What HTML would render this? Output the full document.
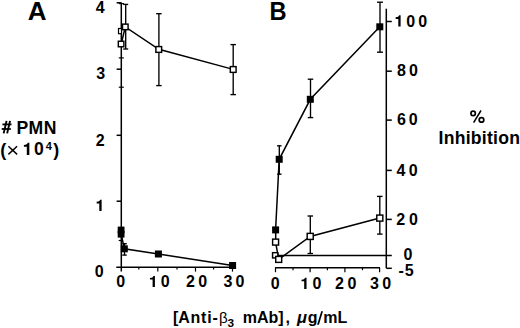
<!DOCTYPE html>
<html><head><meta charset="utf-8"><style>
html,body{margin:0;padding:0;background:#fff;width:520px;height:328px;overflow:hidden}
svg{display:block}
text{font-family:"Liberation Sans",sans-serif;fill:#000;stroke:none}
</style></head><body>
<svg width="520" height="328" viewBox="0 0 520 328" stroke="#000" stroke-linecap="butt">
<g stroke="#000">
<line x1="121.3" y1="2.6" x2="121.3" y2="271.6" stroke-width="1.5"/>
<line x1="116.3" y1="267.2" x2="233" y2="267.2" stroke-width="1.5"/>
<line x1="116.6" y1="2.8" x2="121.3" y2="2.8" stroke-width="1.5"/>
<line x1="116.6" y1="69.2" x2="121.3" y2="69.2" stroke-width="1.5"/>
<line x1="116.6" y1="135.3" x2="121.3" y2="135.3" stroke-width="1.5"/>
<line x1="116.6" y1="201.2" x2="121.3" y2="201.2" stroke-width="1.5"/>
<line x1="138.8" y1="267.2" x2="138.8" y2="269.6" stroke-width="1.2"/>
<line x1="157.8" y1="267.2" x2="157.8" y2="271.6" stroke-width="1.2"/>
<line x1="177" y1="267.2" x2="177" y2="269.6" stroke-width="1.2"/>
<line x1="195.5" y1="267.2" x2="195.5" y2="271.6" stroke-width="1.2"/>
<line x1="213.6" y1="267.2" x2="213.6" y2="269.6" stroke-width="1.2"/>
<line x1="232.5" y1="267.2" x2="232.5" y2="271.6" stroke-width="1.2"/>
<polyline points="121.2,44 125.3,26.9 158.8,49.3 233.2,69.4" fill="none" stroke-width="1.5"/>
<polyline points="121.2,233.8 124.3,248.8 158.4,254 232.6,265.5" fill="none" stroke-width="1.5"/>
<line x1="125.7" y1="4.4" x2="125.7" y2="49" stroke-width="1.35"/>
<line x1="123.2" y1="4.4" x2="128.2" y2="4.4" stroke-width="1.35"/>
<line x1="123.2" y1="49" x2="128.2" y2="49" stroke-width="1.35"/>
<line x1="158.9" y1="13.7" x2="158.9" y2="85.6" stroke-width="1.35"/>
<line x1="156.15" y1="13.7" x2="161.65" y2="13.7" stroke-width="1.35"/>
<line x1="156.15" y1="85.6" x2="161.65" y2="85.6" stroke-width="1.35"/>
<line x1="233.2" y1="44.6" x2="233.2" y2="94.6" stroke-width="1.35"/>
<line x1="230.45" y1="44.6" x2="235.95" y2="44.6" stroke-width="1.35"/>
<line x1="230.45" y1="94.6" x2="235.95" y2="94.6" stroke-width="1.35"/>
<line x1="119" y1="3.6" x2="124" y2="3.6" stroke-width="1.2"/>
<line x1="118.8" y1="57.9" x2="123.8" y2="57.9" stroke-width="1.2"/>
<line x1="118.8" y1="87.2" x2="123.8" y2="87.2" stroke-width="1.2"/>
<line x1="118.7" y1="240.5" x2="122.6" y2="240.5" stroke-width="1.2"/>
<line x1="124.5" y1="243.7" x2="124.5" y2="255.1" stroke-width="1.35"/>
<line x1="122.25" y1="243.7" x2="126.75" y2="243.7" stroke-width="1.35"/>
<line x1="122.25" y1="255.1" x2="126.75" y2="255.1" stroke-width="1.35"/>
<rect x="118.5" y="28.5" width="3.0" height="5.2" fill="#fff" stroke-width="1.2"/>
<rect x="118.32" y="41.23" width="5.55" height="5.55" fill="#fff" stroke-width="1.45"/>
<rect x="122.52" y="24.12" width="5.55" height="5.55" fill="#fff" stroke-width="1.45"/>
<rect x="155.88" y="46.58" width="5.75" height="5.75" fill="#fff" stroke-width="1.45"/>
<rect x="230.32" y="66.62" width="5.75" height="5.75" fill="#fff" stroke-width="1.45"/>
<rect x="117.70" y="226.60" width="6.8" height="6.8" fill="#000" stroke="none"/>
<rect x="117.70" y="230.80" width="6.8" height="6.8" fill="#000" stroke="none"/>
<rect x="120.80" y="245.30" width="7" height="7" fill="#000" stroke="none"/>
<rect x="154.90" y="250.50" width="7" height="7" fill="#000" stroke="none"/>
<rect x="229.10" y="262.00" width="7" height="7" fill="#000" stroke="none"/>
<line x1="386.3" y1="8.8" x2="386.3" y2="268.3" stroke-width="1.5"/>
<line x1="386.3" y1="21.5" x2="391.8" y2="21.5" stroke-width="1.5"/>
<line x1="386.3" y1="71.2" x2="391.8" y2="71.2" stroke-width="1.5"/>
<line x1="386.3" y1="120.1" x2="391.8" y2="120.1" stroke-width="1.5"/>
<line x1="386.3" y1="170.4" x2="391.8" y2="170.4" stroke-width="1.5"/>
<line x1="386.3" y1="219.4" x2="391.8" y2="219.4" stroke-width="1.5"/>
<line x1="386.3" y1="268.3" x2="391.8" y2="268.3" stroke-width="1.5"/>
<line x1="275" y1="255.5" x2="391.8" y2="255.5" stroke-width="1.5"/>
<line x1="275.1" y1="267.8" x2="380" y2="267.8" stroke-width="1.5"/>
<line x1="275.5" y1="267.8" x2="275.5" y2="272.2" stroke-width="1.2"/>
<line x1="293" y1="267.8" x2="293" y2="270.2" stroke-width="1.2"/>
<line x1="310.1" y1="267.8" x2="310.1" y2="272.2" stroke-width="1.2"/>
<line x1="327.4" y1="267.8" x2="327.4" y2="270.2" stroke-width="1.2"/>
<line x1="344.9" y1="267.8" x2="344.9" y2="272.2" stroke-width="1.2"/>
<line x1="362.5" y1="267.8" x2="362.5" y2="270.2" stroke-width="1.2"/>
<line x1="379.6" y1="267.8" x2="379.6" y2="272.2" stroke-width="1.2"/>
<polyline points="275.6,229.9 279.2,159.3 310.3,99.3 379.8,26.8" fill="none" stroke-width="1.5"/>
<polyline points="275.6,242.1 278.7,259.4 310.2,236.4 379.8,218" fill="none" stroke-width="1.5"/>
<line x1="279.3" y1="145.8" x2="279.3" y2="174.2" stroke-width="1.35"/>
<line x1="277.05" y1="145.8" x2="281.55" y2="145.8" stroke-width="1.35"/>
<line x1="277.05" y1="174.2" x2="281.55" y2="174.2" stroke-width="1.35"/>
<line x1="310.5" y1="79.2" x2="310.5" y2="117.6" stroke-width="1.35"/>
<line x1="307.75" y1="79.2" x2="313.25" y2="79.2" stroke-width="1.35"/>
<line x1="307.75" y1="117.6" x2="313.25" y2="117.6" stroke-width="1.35"/>
<line x1="380.0" y1="2.2" x2="380.0" y2="52.2" stroke-width="1.35"/>
<line x1="377.0" y1="2.2" x2="383.0" y2="2.2" stroke-width="1.35"/>
<line x1="377.0" y1="52.2" x2="383.0" y2="52.2" stroke-width="1.35"/>
<line x1="310.3" y1="216" x2="310.3" y2="253.5" stroke-width="1.35"/>
<line x1="307.55" y1="216" x2="313.05" y2="216" stroke-width="1.35"/>
<line x1="307.55" y1="253.5" x2="313.05" y2="253.5" stroke-width="1.35"/>
<line x1="379.8" y1="196.4" x2="379.8" y2="234.1" stroke-width="1.35"/>
<line x1="377.05" y1="196.4" x2="382.55" y2="196.4" stroke-width="1.35"/>
<line x1="377.05" y1="234.1" x2="382.55" y2="234.1" stroke-width="1.35"/>
<line x1="275.7" y1="233" x2="275.7" y2="239" stroke-width="1.5"/>
<rect x="272.10" y="226.40" width="7" height="7" fill="#000" stroke="none"/>
<rect x="275.70" y="155.80" width="7" height="7" fill="#000" stroke="none"/>
<rect x="306.80" y="95.80" width="7" height="7" fill="#000" stroke="none"/>
<rect x="376.30" y="23.30" width="7" height="7" fill="#000" stroke="none"/>
<rect x="272.62" y="239.12" width="5.95" height="5.95" fill="#fff" stroke-width="1.45"/>
<rect x="272.57" y="252.68" width="5.25" height="5.25" fill="#fff" stroke-width="1.45"/>
<rect x="275.72" y="256.42" width="5.95" height="5.95" fill="#fff" stroke-width="1.45"/>
<rect x="307.18" y="233.38" width="6.05" height="6.05" fill="#fff" stroke-width="1.45"/>
<rect x="376.78" y="215.07" width="6.05" height="6.05" fill="#fff" stroke-width="1.45"/>
<text x="27.8" y="19.7" font-size="26" text-anchor="start" letter-spacing="0" font-weight="bold" >A</text>
<text x="0" y="0" font-size="26" font-weight="bold" transform="translate(269.6,19.7) scale(0.91,1)">B</text>
<text x="95.86" y="13.1" font-size="16" font-weight="bold">4</text>
<text x="96.13" y="79.2" font-size="16" font-weight="bold">3</text>
<text x="95.65" y="145.6" font-size="16" font-weight="bold">2</text>
<path d="M0,0L0.145,0L0.145,-0.70L0.05,-0.70C0.035,-0.62 -0.03,-0.585 -0.165,-0.575L-0.165,-0.475L0,-0.475Z" transform="translate(99.3,211.0) scale(16)" fill="#000" stroke="none"/>
<text x="94.87" y="277.4" font-size="16" font-weight="bold">0</text>
<text x="116.37" y="287.1" font-size="16" font-weight="bold">0</text>
<path d="M0,0L0.145,0L0.145,-0.70L0.05,-0.70C0.035,-0.62 -0.03,-0.585 -0.165,-0.575L-0.165,-0.475L0,-0.475Z" transform="translate(152.6,287.1) scale(16)" fill="#000" stroke="none"/>
<text x="160.77" y="287.1" font-size="16" font-weight="bold">0</text>
<text x="186.05" y="287.1" font-size="16" font-weight="bold">2</text>
<text x="198.17" y="287.1" font-size="16" font-weight="bold">0</text>
<text x="223.53" y="287.1" font-size="16" font-weight="bold">3</text>
<text x="235.57" y="287.1" font-size="16" font-weight="bold">0</text>
<text x="270.67" y="288.9" font-size="16" font-weight="bold">0</text>
<path d="M0,0L0.145,0L0.145,-0.70L0.05,-0.70C0.035,-0.62 -0.03,-0.585 -0.165,-0.575L-0.165,-0.475L0,-0.475Z" transform="translate(304.2,288.9) scale(16)" fill="#000" stroke="none"/>
<text x="312.47" y="288.9" font-size="16" font-weight="bold">0</text>
<text x="335.05" y="288.9" font-size="16" font-weight="bold">2</text>
<text x="347.57" y="288.9" font-size="16" font-weight="bold">0</text>
<text x="369.93" y="288.9" font-size="16" font-weight="bold">3</text>
<text x="382.17" y="288.9" font-size="16" font-weight="bold">0</text>
<path d="M0,0L0.145,0L0.145,-0.70L0.05,-0.70C0.035,-0.62 -0.03,-0.585 -0.165,-0.575L-0.165,-0.475L0,-0.475Z" transform="translate(398.3,26.5) scale(16)" fill="#000" stroke="none"/>
<text x="406.27" y="26.5" font-size="16" font-weight="bold">0</text>
<text x="418.27" y="26.5" font-size="16" font-weight="bold">0</text>
<text x="396.99" y="76.1" font-size="16" font-weight="bold">8</text>
<text x="409.07" y="76.1" font-size="16" font-weight="bold">0</text>
<text x="396.91" y="125.1" font-size="16" font-weight="bold">6</text>
<text x="408.87" y="125.1" font-size="16" font-weight="bold">0</text>
<text x="396.56" y="175.7" font-size="16" font-weight="bold">4</text>
<text x="408.67" y="175.7" font-size="16" font-weight="bold">0</text>
<text x="396.25" y="225.2" font-size="16" font-weight="bold">2</text>
<text x="408.97" y="225.2" font-size="16" font-weight="bold">0</text>
<text x="403.47" y="260.1" font-size="16" font-weight="bold">0</text>
<text x="398.38" y="276.1" font-size="16" font-weight="bold">-</text>
<text x="404.71" y="276.1" font-size="16" font-weight="bold">5</text>
<text x="16.4" y="133.9" font-size="17.6" font-weight="bold" letter-spacing="0.45">PMN</text>
<line x1="6.55" y1="120.9" x2="3.65" y2="133.4" stroke-width="1.9"/>
<line x1="10.05" y1="120.9" x2="7.15" y2="133.4" stroke-width="1.9"/>
<line x1="2.4" y1="124.4" x2="11.5" y2="124.4" stroke-width="1.8"/>
<line x1="1.7" y1="129.0" x2="10.8" y2="129.0" stroke-width="1.8"/>
<text x="438.6" y="144" font-size="17.6" text-anchor="start" letter-spacing="0.25" font-weight="bold" >Inhibition</text>
<circle cx="473.15" cy="113.4" r="2.2" fill="none" stroke-width="1.7"/>
<circle cx="481.5" cy="119.9" r="2.3" fill="none" stroke-width="1.7"/>
<line x1="473.6" y1="122.7" x2="481.0" y2="110.5" stroke-width="1.5"/>
<text x="0.2" y="155.6" font-size="18" font-weight="bold">(</text>
<line x1="8.4" y1="146.3" x2="17.1" y2="154.4" stroke-width="1.45"/>
<line x1="17.1" y1="146.3" x2="8.4" y2="154.4" stroke-width="1.45"/>
<path d="M0,0L0.145,0L0.145,-0.70L0.05,-0.70C0.035,-0.62 -0.03,-0.585 -0.165,-0.575L-0.165,-0.475L0,-0.475Z" transform="translate(26.8,155.0) scale(17.6)" fill="#000" stroke="none"/>
<text x="34.10" y="155.0" font-size="17.6" font-weight="bold">0</text>
<text x="45.73" y="150.3" font-size="11" font-weight="bold">4</text>
<text x="53.2" y="155.6" font-size="18" font-weight="bold">)</text>
<text x="173.0" y="322.9" font-size="16" font-weight="bold">[</text>
<text x="178.2" y="322.9" font-size="16" font-weight="bold" letter-spacing="0.8">Anti-</text>
<text x="219.1" y="323.2" font-size="15" font-family="Liberation Serif">β</text>
<text x="0" y="0" font-size="10.5" font-weight="bold" transform="translate(227.5,327.1) scale(1.13,1)">3</text>
<text x="242.7" y="322.9" font-size="16" font-weight="bold">mAb]</text>
<text x="285.4" y="323" font-size="16" font-weight="bold">,</text>
<text x="296.9" y="323.2" font-size="16.5" font-weight="bold" font-style="italic">μ</text>
<text x="307.85" y="323.3" font-size="16" font-weight="bold">g</text>
<path d="M317.1,324.8L318.9,324.8L323.0,311.2L321.2,311.2Z" fill="#000" stroke="none"/>
<text x="323.25" y="323.3" font-size="16" font-weight="bold">mL</text>
</g>
</svg>
</body></html>
